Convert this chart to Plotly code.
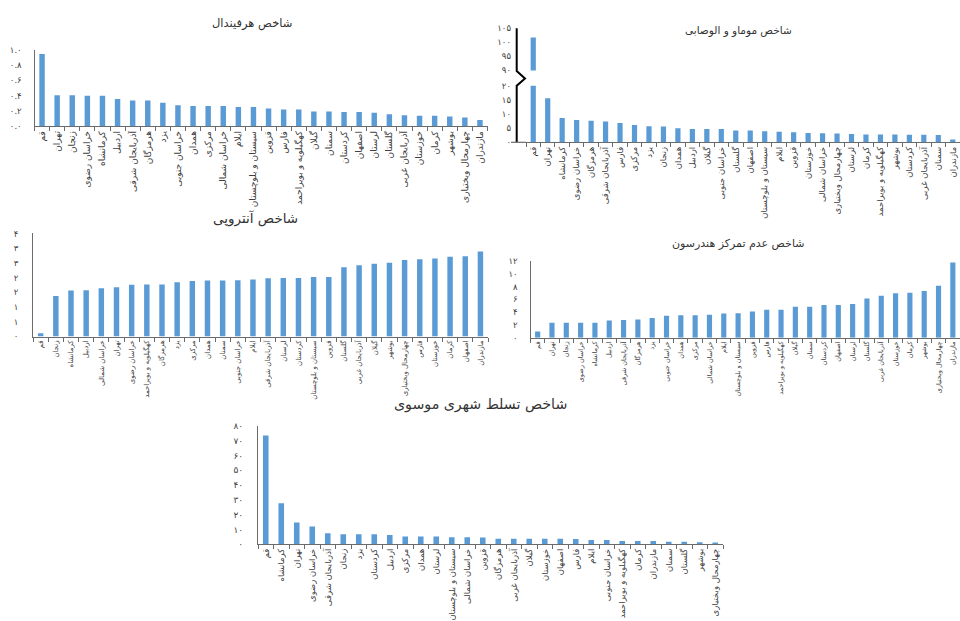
import plotly.graph_objects as go

W, H = 960, 621
BLUE = '#5B9BD5'
AXC = '#6b6b6b'
TXT = '#404040'
FONT = 'DejaVu Sans'

# ---------------- data ----------------
herf_cats = ['قم', 'تهران', 'زنجان', 'خراسان رضوی', 'کرمانشاه', 'اردبیل', 'آذربایجان شرقی', 'هرمزگان',
             'یزد', 'خراسان جنوبی', 'همدان', 'مرکزی', 'خراسان شمالی', 'ایلام', 'سیستان و بلوچستان', 'قزوین',
             'فارس', 'کهگیلویه و بویراحمد', 'گیلان', 'سمنان', 'کردستان', 'اصفهان', 'لرستان', 'گلستان',
             'آذربایجان غربی', 'خوزستان', 'کرمان', 'بوشهر', 'چهارمحال وبختیاری', 'مازندران']
herf_vals = [0.946, 0.408, 0.408, 0.40, 0.40, 0.358, 0.338, 0.338, 0.308, 0.275, 0.267, 0.267, 0.267, 0.254,
             0.254, 0.233, 0.22, 0.22, 0.196, 0.196, 0.188, 0.188, 0.179, 0.158, 0.146, 0.138, 0.138, 0.129,
             0.117, 0.083]
herf_tickvals = [0, 0.2, 0.4, 0.6, 0.8, 1.0]
herf_ticktext = ['۰.۰', '۰.۲', '۰.۴', '۰.۶', '۰.۸', '۱.۰']

momav_cats = ['قم', 'تهران', 'کرمانشاه', 'خراسان رضوی', 'هرمزگان', 'آذربایجان شرقی', 'فارس', 'مرکزی', 'یزد',
              'زنجان', 'همدان', 'اردبیل', 'گیلان', 'خراسان جنوبی', 'گلستان', 'اصفهان', 'سیستان و بلوچستان',
              'ایلام', 'قزوین', 'خوزستان', 'خراسان شمالی', 'چهارمحال وبختیاری', 'لرستان', 'کرمان',
              'کهگیلویه و بویراحمد', 'بوشهر', 'کردستان', 'آذربایجان غربی', 'سمنان', 'مازندران']
momav_vals = [101.7, 15.6, 8.6, 7.9, 7.6, 7.4, 6.8, 6.1, 5.7, 5.6, 5.0, 4.7, 4.7, 4.7, 4.2, 4.2, 3.9, 3.7,
              3.6, 3.3, 3.2, 3.1, 2.9, 2.8, 2.8, 2.8, 2.7, 2.7, 2.6, 1.0]
momav_low_tickvals = [0, 5, 10, 15, 20]
momav_low_ticktext = ['۰', '۵', '۱۰', '۱۵', '۲۰']
momav_high_tickvals = [90, 95, 100, 105]
momav_high_ticktext = ['۹۰', '۹۵', '۱۰۰', '۱۰۵']

entropy_cats = ['قم', 'زنجان', 'کرمانشاه', 'اردبیل', 'خراسان شمالی', 'تهران', 'خراسان رضوی',
                'کهگیلویه و بویراحمد', 'هرمزگان', 'یزد', 'مرکزی', 'همدان', 'سمنان', 'خراسان جنوبی', 'ایلام',
                'آذربایجان شرقی', 'لرستان', 'کردستان', 'سیستان و بلوچستان', 'قزوین', 'گلستان',
                'آذربایجان غربی', 'گیلان', 'بوشهر', 'چهارمحال وبختیاری', 'فارس', 'خوزستان', 'کرمان',
                'اصفهان', 'مازندران']
entropy_vals = [0.11, 1.38, 1.56, 1.57, 1.64, 1.67, 1.76, 1.77, 1.77, 1.84, 1.89, 1.90, 1.90, 1.91, 1.94,
                1.98, 1.99, 1.99, 2.02, 2.02, 2.35, 2.42, 2.47, 2.51, 2.60, 2.63, 2.65, 2.71, 2.73, 2.89]
entropy_tickvals = [0, 0.5, 1.0, 1.5, 2.0, 2.5, 3.0, 3.5]
entropy_ticktext = ['۰', '۱', '۱', '۲', '۲', '۳', '۳', '۴']

hend_cats = ['قم', 'تهران', 'زنجان', 'خراسان رضوی', 'کرمانشاه', 'اردبیل', 'آذربایجان شرقی', 'هرمزگان',
             'یزد', 'خراسان جنوبی', 'همدان', 'مرکزی', 'خراسان شمالی', 'ایلام', 'سیستان و بلوچستان', 'قزوین',
             'فارس', 'کهگیلویه و بویراحمد', 'گیلان', 'سمنان', 'کردستان', 'اصفهان', 'لرستان', 'گلستان',
             'آذربایجان غربی', 'خوزستان', 'کرمان', 'بوشهر', 'چهارمحال وبختیاری', 'مازندران']
hend_vals = [1.0, 2.35, 2.35, 2.35, 2.35, 2.7, 2.8, 2.85, 3.1, 3.45, 3.55, 3.55, 3.6, 3.8, 3.85, 4.1, 4.4,
             4.4, 4.85, 4.85, 5.15, 5.15, 5.3, 6.15, 6.6, 7.0, 7.05, 7.35, 8.15, 11.8]
hend_tickvals = [0, 2, 4, 6, 8, 10, 12]
hend_ticktext = ['۰', '۲', '۴', '۶', '۸', '۱۰', '۱۲']

mousavi_cats = ['قم', 'کرمانشاه', 'تهران', 'خراسان رضوی', 'آذربایجان شرقی', 'زنجان', 'یزد', 'کردستان',
                'اردبیل', 'مرکزی', 'همدان', 'لرستان', 'سیستان و بلوچستان', 'خراسان شمالی', 'قزوین', 'هرمزگان',
                'آذربایجان غربی', 'گیلان', 'خوزستان', 'اصفهان', 'فارس', 'ایلام', 'خراسان جنوبی',
                'کهگیلویه و بویراحمد', 'کرمان', 'مازندران', 'سمنان', 'گلستان', 'بوشهر', 'چهارمحال وبختیاری']
mousavi_vals = [73.5, 27.6, 14.7, 11.9, 7.3, 6.7, 6.7, 6.7, 6.25, 5.2, 5.2, 5.2, 4.7, 4.7, 4.5, 3.7, 3.7,
                3.7, 3.7, 3.7, 3.4, 2.8, 2.8, 2.2, 2.2, 2.2, 1.7, 1.7, 1.3, 1.1]
mousavi_tickvals = [0, 10, 20, 30, 40, 50, 60, 70, 80]
mousavi_ticktext = ['۰', '۱۰', '۲۰', '۳۰', '۴۰', '۵۰', '۶۰', '۷۰', '۸۰']

titles = ['شاخص هرفیندال', 'شاخص موماو و الوصابی', 'شاخص آنتروپی', 'شاخص عدم تمرکز هندرسون',
          'شاخص تسلط شهری موسوی']


# ---------------- layout helpers (window pixels -> paper) ----------------
def fx(p):
    return p / W


def fy(p):
    return 1 - p / H


fig = go.Figure()


def add_bars(cats, vals, xa, ya):
    fig.add_trace(go.Bar(x=cats, y=vals, xaxis=xa, yaxis=ya, marker=dict(color=BLUE, line=dict(width=0)),
                         showlegend=False, hoverinfo='x+y'))


add_bars(herf_cats, herf_vals, 'x', 'y')
add_bars(momav_cats, momav_vals, 'x2', 'y2')
add_bars(momav_cats, momav_vals, 'x2', 'y6')
add_bars(entropy_cats, entropy_vals, 'x3', 'y3')
add_bars(hend_cats, hend_vals, 'x4', 'y4')
add_bars(mousavi_cats, mousavi_vals, 'x5', 'y5')


def xaxis(x0, x1, anchor, n, fs):
    return dict(domain=[fx(x0), fx(x1)], anchor=anchor, type='category', range=[-0.5, n - 0.5],
                tickangle=-90, tickson='boundaries', ticks='outside', ticklen=4, tickcolor=AXC, tickwidth=1,
                showline=True, linecolor=AXC, linewidth=1.2, showgrid=False, zeroline=False,
                ticklabeloverflow='allow',
                tickfont=dict(family=FONT, size=fs, color=TXT), fixedrange=True)


def yaxis(ytop, ybot, anchor, rng, tv, tt, line=True, standoff=8, fs=8.5):
    span = rng[1] - rng[0]
    return dict(domain=[fy(ybot), fy(ytop)], anchor=anchor, range=[rng[0], rng[1] + span * 0.002],
                tickvals=tv, ticktext=tt,
                showline=line, linecolor=AXC, linewidth=1.2, showgrid=False, zeroline=False, ticks='',
                ticklabelstandoff=standoff, tickfont=dict(family=FONT, size=fs, color=TXT), fixedrange=True)


n = 30
fig.update_layout(
    width=W, height=H, margin=dict(l=0, r=0, t=0, b=0),
    paper_bgcolor='white', plot_bgcolor='rgba(0,0,0,0)', bargap=0.64,
    font=dict(family=FONT, color=TXT),
    xaxis=xaxis(34.5, 487.5, 'y', n, 9),
    yaxis=yaxis(46.7, 126.7, 'x', [0, 1.0], herf_tickvals, herf_ticktext, standoff=10),
    xaxis2=xaxis(526, 960, 'y2', n, 8.5),
    yaxis2=yaxis(84.3, 143.3, 'x2', [0, 20], momav_low_tickvals, momav_low_ticktext, line=False, standoff=14),
    yaxis6=yaxis(24.3, 68.3, 'x2', [90, 105], momav_high_tickvals, momav_high_ticktext, line=False,
                 standoff=14),
    xaxis3=xaxis(33.1, 488, 'y3', n, 7),
    yaxis3=yaxis(238.3, 346, 'x3', [0, 3.5], entropy_tickvals, entropy_ticktext, standoff=12),
    xaxis4=xaxis(530.5, 960, 'y4', n, 6.5),
    yaxis4=yaxis(267.3, 347.3, 'x4', [0, 12], hend_tickvals, hend_ticktext, standoff=10),
    xaxis5=xaxis(258, 723, 'y5', n, 8.5),
    yaxis5=yaxis(439, 562.7, 'x5', [0, 80], mousavi_tickvals, mousavi_ticktext, standoff=12, fs=9),
)

# titles
title_pos = [(252, 19, 11.5), (738, 27, 10.5), (255, 223, 13.5), (738, 249, 11), (480, 417, 14.2)]
for t, (x, y, s) in zip(titles, title_pos):
    fig.add_annotation(text=t, x=fx(x), y=fy(y), xref='paper', yref='paper', showarrow=False,
                       xanchor='center', yanchor='middle', font=dict(family=FONT, size=s, color='#333333'))

# broken axis for the second panel
pts = [(516.7, 143.3), (516.7, 84.3), (525, 76.7), (516.7, 69), (516.7, 24.3)]
path = 'M ' + ' L '.join(f'{fx(a):.5f},{fy(b):.5f}' for a, b in pts)
fig.add_shape(type='path', path=path, xref='paper', yref='paper', line=dict(color='black', width=2))
fig.add_shape(type='line', x0=fx(511), x1=fx(526), y0=fy(143.3), y1=fy(143.3), xref='paper', yref='paper',
              line=dict(color=AXC, width=1.2))

# remove the default page margin so the 960x621 figure fills the window exactly
fig.write_html('out.html', config={'displayModeBar': False},
               post_script="document.body.style.margin='0';document.body.style.overflow='hidden';")
